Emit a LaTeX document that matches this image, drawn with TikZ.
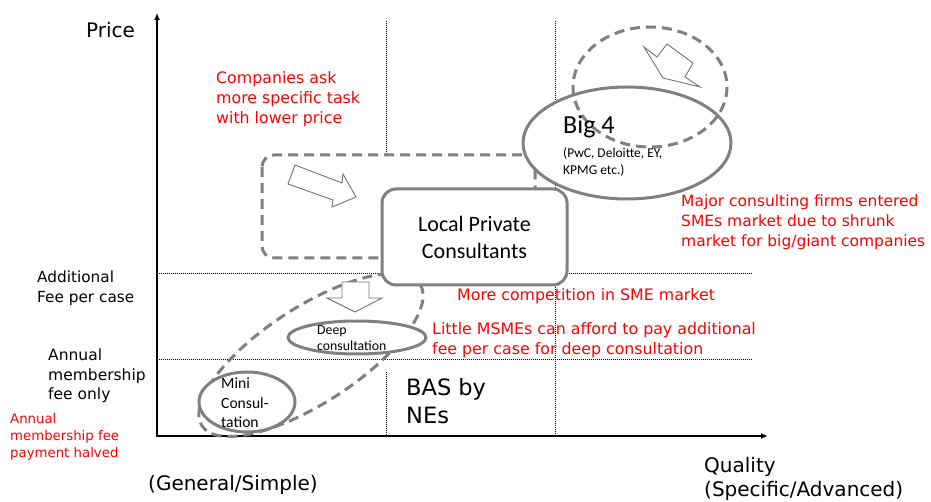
\documentclass[tikz,border=0pt]{standalone}
\usepackage{fontspec}
\setmainfont{DejaVu Sans}
\newfontfamily\calibrifont{Carlito}
\usetikzlibrary{arrows.meta}
\definecolor{mgray}{RGB}{128,128,128}
\definecolor{mred}{RGB}{255,0,0}

\begin{document}
\begin{tikzpicture}[x=1pt, y=-1pt,
    gridline/.style={black, line width=1pt, dash pattern=on 1pt off 1pt},
    axisline/.style={black, line width=1.6pt, {Latex[length=7pt,width=6pt]}-{Latex[length=7pt,width=6pt]}},
    solidshape/.style={draw=mgray, line width=3pt, fill=white},
    dashshape/.style={draw=mgray, line width=3pt, dash pattern=on 10pt off 6pt},
    hollow/.style={draw=mgray!90!black, line width=0.9pt, fill=white, line join=miter},
    txt/.style={inner sep=0pt, anchor=west, align=left},
    redtxt/.style={txt, text=mred, font=\fontsize{15.8}{20}\selectfont}]
    \useasboundingbox (0, 0) rectangle (931, 502);

    % grid of dotted lines
    \draw [gridline] (386, 21) -- (386, 155);
    \draw [gridline] (386, 372) -- (386, 436);
    \draw [gridline] (555, 21) -- (555, 436);
    \draw [gridline] (157, 274) -- (752, 274);
    \draw [gridline] (157, 359) -- (753, 359);

    % axes
    \coordinate (ytip) at (157, 13);
    \coordinate (xtip) at (768, 436);
    \draw [axisline] (ytip) |- (xtip);

    % local consultants moving down
    \draw [dashshape, fill=white, rounded corners=12pt] (262, 155) rectangle (535, 258);
    \draw [hollow] (295, 165) -- (342, 183) -- (343, 174) -- (356, 197) -- (332, 207) -- (333, 200) -- (288, 184) -- cycle;

    % BAS by NEs
    \draw [dashshape, rotate around={33:(311, 355)}] (311, 355) ellipse [x radius=130, y radius=48];
    \draw [solidshape] (357, 337.5) ellipse [x radius=69, y radius=16.5];
    \draw [hollow] (342, 282) -- (369, 282) -- (369, 298) -- (382, 298) -- (355, 312) -- (327, 298) -- (342, 298) -- cycle;
    \draw [solidshape] (247, 402) ellipse [x radius=48, y radius=30];

    % big 4
    \draw [solidshape] (627, 143) ellipse [x radius=104, y radius=56];
    \draw [dashshape] (650, 87) ellipse [x radius=77, y radius=60];
    \draw [hollow] (644, 47) -- (657, 57) -- (667, 44) -- (693, 63) -- (685, 77) -- (700, 87) -- (663, 78) -- cycle;

    \node [solidshape, rounded corners=14pt, minimum width=185pt, minimum height=96pt, align=center,
           font=\calibrifont\fontsize{22}{27}\selectfont] (local) at (474.5, 237) {Local Private\\Consultants};

    % texts in the boxes
    \node [txt, font=\calibrifont\fontsize{26}{30}\selectfont] (bigfour) at (563, 127) {Big 4};
    \node [txt, font=\calibrifont\fontsize{13.5}{17}\selectfont] (bigfourlist) at (563, 162) {(PwC, Deloitte, EY,\\KPMG etc.)};
    \node [txt, font=\calibrifont\fontsize{13.8}{16.7}\selectfont] (deep) at (317, 338) {Deep\\consultation};
    \node [txt, font=\calibrifont\fontsize{15.6}{19.5}\selectfont] (mini) at (221, 403) {Mini\\Consul-\\tation};
    \node [txt, font=\fontsize{22.5}{28}\selectfont] (bas) at (406, 401) {BAS by\\NEs};

    % axis texts
    \node [txt, font=\fontsize{20}{24}\selectfont] (price) at (86, 30) {Price};
    \node [txt, font=\fontsize{20}{24}\selectfont] (general) at (148, 485) {(General/Simple)};
    \node [txt, font=\fontsize{20}{24}\selectfont] (quality) at (704, 479) {Quality\\(Specific/Advanced)};
    \node [txt, font=\fontsize{15.3}{20}\selectfont] (addfee) at (37, 288) {Additional\\Fee per case};
    \node [txt, font=\fontsize{15.5}{19.5}\selectfont] (annualfee) at (48, 376) {Annual\\membership\\fee only};

    % red remarks
    \node [redtxt] (companies) at (216, 99) {Companies ask\\more specific task\\with lower price};
    \node [redtxt, font=\fontsize{15.5}{20}\selectfont] (major) at (681, 222) {Major consulting firms entered\\SMEs market due to shrunk\\market for big/giant companies};
    \node [redtxt] (competition) at (457, 296) {More competition in SME market};
    \node [redtxt] (little) at (432, 340) {Little MSMEs can afford to pay additional\\fee per case for deep consultation};
    \node [redtxt, font=\fontsize{13.3}{16.7}\selectfont] (halved) at (10, 437) {Annual\\membership fee\\payment halved};
  \end{tikzpicture}
\end{document}
